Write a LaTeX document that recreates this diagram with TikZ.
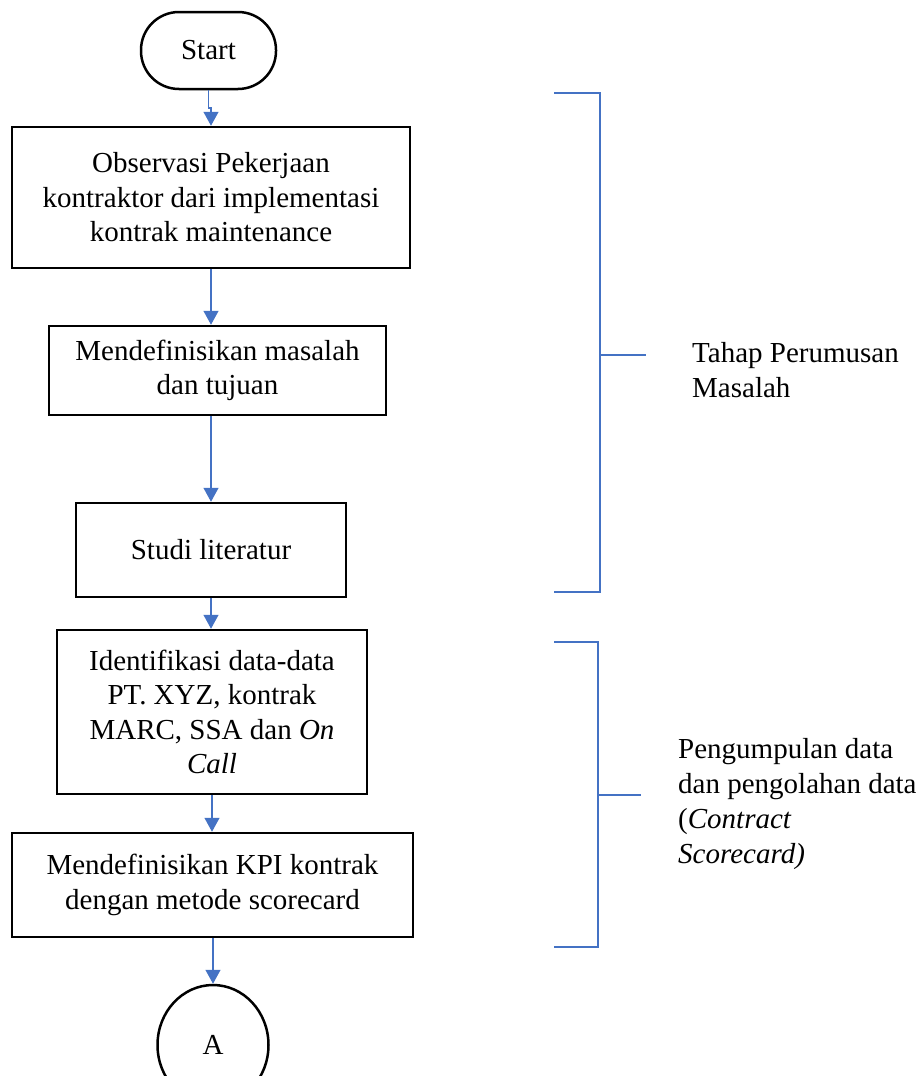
\documentclass[tikz,border=0pt]{standalone}
\usepackage{fontspec}
\setmainfont{Liberation Serif}
\usetikzlibrary{arrows.meta,shapes.geometric}
\definecolor{lineblue}{HTML}{4472C4}
\begin{document}
\begin{tikzpicture}[x=1pt,y=-1pt,
  box/.style={draw=black,line width=2.5pt,align=center,inner sep=0pt,font=\fontsize{29}{34.5}\selectfont},
  arr/.style={draw=lineblue,line width=1.3pt,-{Triangle[width=15pt,length=14pt]}},
  brk/.style={draw=lineblue,line width=1.3pt},
  lbl/.style={align=left,inner sep=0pt,anchor=north west,font=\fontsize{29}{35}\selectfont}]
\useasboundingbox (0,0) rectangle (916,1076);
\clip (0,0) rectangle (916,1076);
\fill[white] (0,0) rectangle (916,1076);

\node[box,rounded corners=38pt,minimum width=135pt,minimum height=77pt] (start) at (208.5,50.5) {Start};
\node[box,minimum width=398pt,minimum height=141pt] (box1) at (211,197.5) {Observasi Pekerjaan\\kontraktor dari implementasi\\kontrak maintenance};
\node[box,minimum width=337pt,minimum height=89pt] (box2) at (217.5,370.5) {Mendefinisikan masalah\\dan tujuan};
\node[box,minimum width=270pt,minimum height=94pt] (box3) at (211,550) {Studi literatur};
\node[box,minimum width=310pt,minimum height=164pt] (box4) at (212,712) {Identifikasi data-data\\PT. XYZ, kontrak\\MARC, SSA dan \textit{On}\\\textit{Call}};
\node[box,minimum width=401pt,minimum height=104pt] (box5) at (212.5,885) {Mendefinisikan KPI kontrak\\dengan metode scorecard};
\node[box,ellipse,minimum width=111pt,minimum height=120pt] (a) at (213,1045) {A};

\coordinate (j1) at (208.5,108);
\draw[arr] (start.south) -- (j1) -| (box1.north);
\draw[arr] (box1.south) -- (box1.south |- box2.north);
\draw[arr] (box3.north |- box2.south) -- (box3.north);
\draw[arr] (box3.south) -- (box3.south |- box4.north);
\draw[arr] (box4.south) -- (box4.south |- box5.north);
\draw[arr] (a.north |- box5.south) -- (a.north);

\coordinate (b1top) at (554,93);
\coordinate (b1bot) at (554,592);
\coordinate (b1mid) at (600,355);
\draw[brk] (b1top) -- (600,93) -- (600,592) -- (b1bot);
\draw[brk] (b1mid) -- (646,355);

\coordinate (b2top) at (554,642);
\coordinate (b2bot) at (554,947);
\coordinate (b2mid) at (598,795);
\draw[brk] (b2top) -- (598,642) -- (598,947) -- (b2bot);
\draw[brk] (b2mid) -- (641,795);

\node[lbl] (l1) at (692,342) {Tahap Perumusan\\Masalah};
\node[lbl] (l2) at (678,738) {Pengumpulan data\\dan pengolahan data\\(\textit{Contract}\\\textit{Scorecard)}};
\end{tikzpicture}
\end{document}
